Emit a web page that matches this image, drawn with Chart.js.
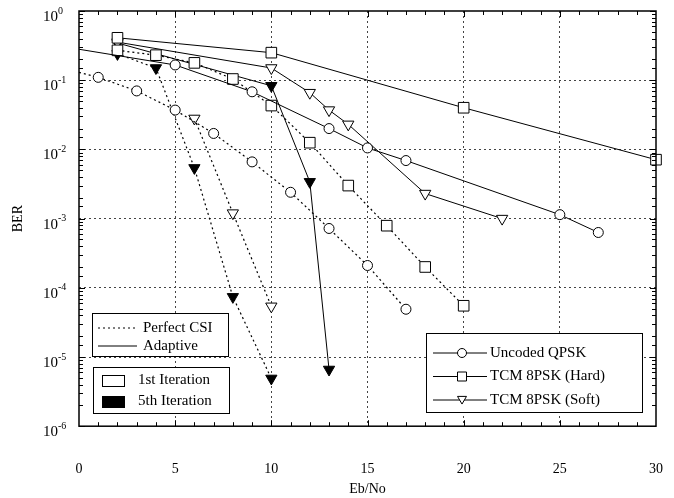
<!DOCTYPE html>
<html lang="en">
<head>
    <meta charset="UTF-8">
    <title>BER vs Eb/No</title>
    <style>
        body { margin: 0; background: #fff; }
        #wrap { width: 674px; height: 498px; }
    </style>
    <script src="https://cdn.jsdelivr.net/npm/chart.js"></script>
</head>
<body>
<div id="wrap"><canvas id="berChart" width="674" height="498"></canvas></div>
<script>
    // Eb/No (dB) and BER
    const unPcsiX  = [0, 1, 3, 5, 7, 9, 11, 13, 15, 17];
    const unPcsiY  = [0.13, 0.11, 0.07, 0.037, 0.017, 0.0066, 0.0024, 0.00072, 0.00021, 0.000049];
    const unAdaX   = [0, 5, 9, 13, 15, 17, 25, 27];
    const unAdaY   = [0.28, 0.166, 0.068, 0.020, 0.0105, 0.0069, 0.00114, 0.00063];
    const hardPcsiX = [2, 4, 6, 8, 10, 12, 14, 16, 18, 20];
    const hardPcsiY = [0.27, 0.23, 0.178, 0.104, 0.043, 0.0125, 0.003, 0.00079, 0.0002, 0.000055];
    const hardAdaX = [2, 10, 20, 30];
    const hardAdaY = [0.41, 0.25, 0.040, 0.0071];
    const soft1PcsiX = [6, 8, 10];
    const soft1PcsiY = [0.028, 0.0012, 0.000054];
    const soft1AdaX = [2, 10, 12, 13, 14, 18, 22];
    const soft1AdaY = [0.355, 0.15, 0.066, 0.037, 0.023, 0.0023, 0.001];
    const soft5PcsiX = [2, 4, 6, 8, 10];
    const soft5PcsiY = [0.24, 0.15, 0.0054, 0.000074, 0.0000049];
    const soft5AdaX = [2, 10, 12, 13];
    const soft5AdaY = [0.345, 0.083, 0.0034, 0.0000066];

    const xTicks = [0, 5, 10, 15, 20, 25, 30];
    const yDecades = [0, -1, -2, -3, -4, -5, -6];
    const csiLabels = ['Perfect CSI', 'Adaptive'];
    const iterLabels = ['1st Iteration', '5th Iteration'];
    const codeLabels = ['Uncoded QPSK', 'TCM 8PSK (Hard)', 'TCM 8PSK (Soft)'];

    const SERIF = "'Liberation Serif', 'Times New Roman', serif";
    const DOT = [2, 3];

    function pts(xs, ys) {
        return xs.map((x, i) => ({x: x, y: ys[i]}));
    }

    function series(xs, ys, marker, filled, dotted, hideFirst) {
        const style = {circle: ['circle', 5, 0], square: ['rect', 7.5, 0], tri: ['triangle', 6.5, 180]}[marker];
        return {
            data: pts(xs, ys),
            borderColor: '#000',
            borderWidth: dotted ? 1.2 : 1,
            borderDash: dotted ? DOT : [],
            pointStyle: style[0],
            pointRadius: xs.map((x, i) => (hideFirst && i === 0) ? 0 : style[1]),
            pointRotation: style[2],
            pointBackgroundColor: filled ? '#000' : '#fff',
            pointBorderColor: '#000',
            pointBorderWidth: 1,
            tension: 0,
            clip: false
        };
    }

    const datasets = [
        series(unPcsiX, unPcsiY, 'circle', false, true, true),
        series(unAdaX, unAdaY, 'circle', false, false, true),
        series(hardPcsiX, hardPcsiY, 'square', false, true),
        series(hardAdaX, hardAdaY, 'square', false, false),
        series(soft1PcsiX, soft1PcsiY, 'tri', false, true),
        series(soft1AdaX, soft1AdaY, 'tri', false, false),
        series(soft5PcsiX, soft5PcsiY, 'tri', true, true),
        series(soft5AdaX, soft5AdaY, 'tri', true, false)
    ];

    function isDecade(v) {
        const l = Math.log10(v);
        return Math.abs(l - Math.round(l)) < 1e-6;
    }

    function marker(ctx, kind, x, y, r) {
        ctx.beginPath();
        if (kind === 'circle') {
            ctx.arc(x, y, r, 0, Math.PI * 2);
        } else if (kind === 'square') {
            ctx.rect(x - r, y - r, 2 * r, 2 * r);
        } else {
            ctx.moveTo(x - r, y - r * 0.8);
            ctx.lineTo(x + r, y - r * 0.8);
            ctx.lineTo(x, y + r * 0.9);
            ctx.closePath();
        }
        ctx.fillStyle = '#fff';
        ctx.fill();
        ctx.stroke();
    }

    // frame, inner ticks, tick labels, and the three legend boxes
    const decor = {
        id: 'decor',
        afterDraw(chart) {
            const {ctx, chartArea: a, scales: {x, y}} = chart;
            ctx.save();
            ctx.strokeStyle = '#000';
            ctx.lineWidth = 1;
            ctx.setLineDash([]);
            ctx.beginPath();
            for (let v = 1; v < 30; v++) {
                const px = Math.round(x.getPixelForValue(v)) + 0.5;
                const len = v % 5 === 0 ? 6 : 4;
                ctx.moveTo(px, a.bottom); ctx.lineTo(px, a.bottom - len);
                ctx.moveTo(px, a.top); ctx.lineTo(px, a.top + len);
            }
            y.ticks.forEach(t => {
                const py = Math.round(y.getPixelForValue(t.value)) + 0.5;
                const len = isDecade(t.value) ? 6 : 4;
                ctx.moveTo(a.left, py); ctx.lineTo(a.left + len, py);
                ctx.moveTo(a.right, py); ctx.lineTo(a.right - len, py);
            });
            ctx.stroke();
            ctx.lineWidth = 1.5;
            ctx.strokeRect(a.left, a.top, a.right - a.left, a.bottom - a.top);

            // x tick labels
            ctx.fillStyle = '#000';
            ctx.textBaseline = 'middle';
            ctx.textAlign = 'center';
            ctx.font = '14px ' + SERIF;
            xTicks.forEach(v => ctx.fillText(String(v), x.getPixelForValue(v), a.bottom + 43));

            // y tick labels 10^k
            yDecades.forEach(k => {
                const py = y.getPixelForValue(Math.pow(10, k));
                ctx.font = '15px ' + SERIF;
                ctx.textAlign = 'right';
                ctx.fillText('10', a.left - 21, py + 6);
                ctx.font = '10px ' + SERIF;
                ctx.textAlign = 'left';
                ctx.fillText(k === 0 ? '0' : '-' + (-k), a.left - 21, py);
            });

            // y axis title
            ctx.save();
            ctx.translate(18, (a.top + a.bottom) / 2);
            ctx.rotate(-Math.PI / 2);
            ctx.font = '14px ' + SERIF;
            ctx.textAlign = 'center';
            ctx.fillText('BER', 0, 0);
            ctx.restore();

            ctx.lineWidth = 1;
            ctx.font = '15px ' + SERIF;
            ctx.textAlign = 'left';

            // legend: CSI line style
            ctx.fillStyle = '#fff';
            ctx.fillRect(92, 313, 136, 43);
            ctx.strokeRect(92.5, 313.5, 136, 43);
            [DOT, []].forEach((d, i) => {
                const ly = 328 + i * 18;
                ctx.setLineDash(d);
                ctx.beginPath(); ctx.moveTo(98, ly); ctx.lineTo(137, ly); ctx.stroke();
                ctx.setLineDash([]);
                ctx.fillStyle = '#000';
                ctx.fillText(csiLabels[i], 143, ly);
            });

            // legend: iterations
            ctx.fillStyle = '#fff';
            ctx.fillRect(93, 367, 136, 46);
            ctx.strokeRect(93.5, 367.5, 136, 46);
            iterLabels.forEach((lab, i) => {
                const ly = 380 + i * 21;
                ctx.fillStyle = i === 0 ? '#fff' : '#000';
                ctx.fillRect(102, ly - 5, 22, 11);
                ctx.strokeRect(102.5, ly - 4.5, 22, 11);
                ctx.fillStyle = '#000';
                ctx.fillText(lab, 138, ly);
            });

            // legend: code type
            ctx.fillStyle = '#fff';
            ctx.fillRect(426, 333, 216, 79);
            ctx.strokeRect(426.5, 333.5, 216, 79);
            ['circle', 'square', 'tri'].forEach((kind, i) => {
                const ly = 353 + i * 23.5;
                ctx.beginPath(); ctx.moveTo(433, ly); ctx.lineTo(487, ly); ctx.stroke();
                marker(ctx, kind, 462, ly, 4.5);
                ctx.fillStyle = '#000';
                ctx.fillText(codeLabels[i], 490, ly);
            });
            ctx.restore();
        }
    };

    new Chart(document.getElementById('berChart').getContext('2d'), {
        type: 'line',
        data: {datasets: datasets},
        options: {
            responsive: false,
            animation: false,
            events: [],
            layout: {padding: {left: 79, right: 18, top: 11, bottom: 0}},
            plugins: {legend: {display: false}, tooltip: {enabled: false}},
            scales: {
                x: {
                    type: 'linear',
                    min: 0,
                    max: 30,
                    afterBuildTicks: s => { s.ticks = xTicks.map(v => ({value: v})); },
                    ticks: {display: false},
                    grid: {
                        color: c => (c.tick && c.tick.value > 0 && c.tick.value < 30) ? '#444' : 'rgba(0,0,0,0)',
                        lineWidth: 1,
                        drawTicks: false
                    },
                    border: {display: false, dash: DOT},
                    title: {
                        display: true,
                        text: 'Eb/No',
                        color: '#000',
                        font: {family: SERIF, size: 14},
                        padding: {top: 55, bottom: 0}
                    }
                },
                y: {
                    type: 'logarithmic',
                    min: 1e-6,
                    max: 1,
                    ticks: {display: false},
                    grid: {
                        color: c => (c.tick && isDecade(c.tick.value) && c.tick.value < 1 && c.tick.value > 1e-6) ? '#444' : 'rgba(0,0,0,0)',
                        lineWidth: 1,
                        drawTicks: false
                    },
                    border: {display: false, dash: DOT},
                    title: {display: false}
                }
            }
        },
        plugins: [decor]
    });
</script>
</body>
</html>
